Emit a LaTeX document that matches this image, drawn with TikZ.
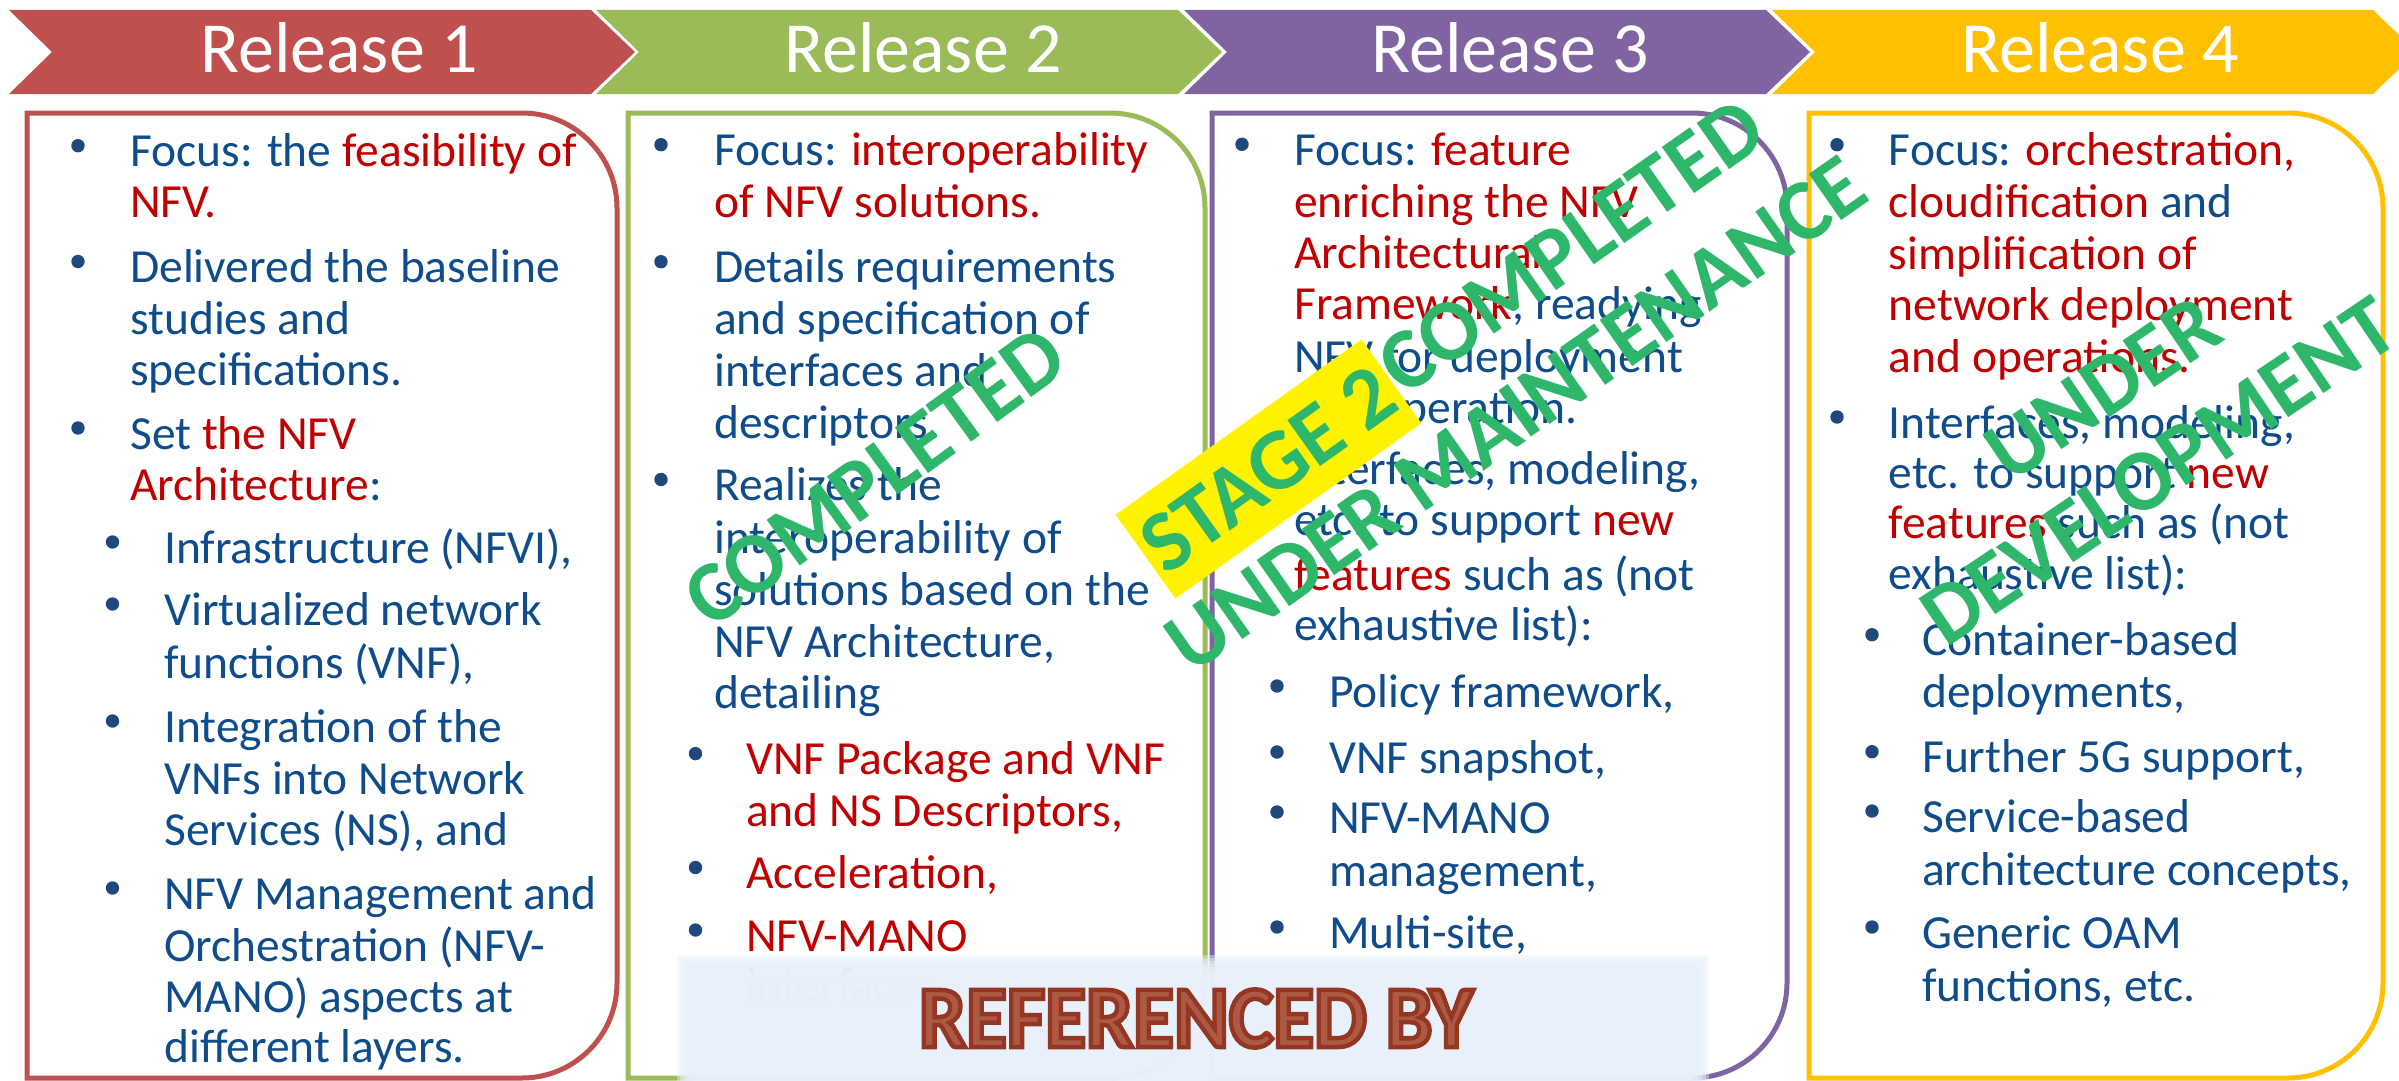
\documentclass[tikz,border=0pt]{standalone}
\usepackage{fontspec}
\setmainfont{Carlito}
\usepackage{graphicx}
\definecolor{cred}{HTML}{C0504D}
\definecolor{cgreen}{HTML}{9BBB59}
\definecolor{cpurple}{HTML}{8064A2}
\definecolor{cgold}{HTML}{FFC000}
\definecolor{tblue}{HTML}{0E4C8C}
\definecolor{tred}{HTML}{C00000}
\definecolor{bulc}{HTML}{1F497D}
\definecolor{wgreen}{HTML}{2EB66A}
\definecolor{ovl}{HTML}{E8F1FB}
\definecolor{reff}{HTML}{AD5A45}
\newcount\lnum
\newcommand\tline[3]{\global\advance\lnum by 1\relax\node[txt] (ln\the\lnum) at (#1,-#2) {#3};}
\newcommand\mybul[2]{\fill[bulc] (#1,{21-#2}) circle[radius=6.7];}
\newcommand\rd[1]{\textcolor{tred}{#1}}
\newcommand\relbox[3]{\draw[line width=5, #3] (#1,-113) -- ({#2-95},-113) arc[start angle=90,end angle=0,radius=95] -- (#2,{-1078+95}) arc[start angle=0,end angle=-90,radius=95] -- (#1,-1078) -- cycle;}
\newcommand\chev[3]{\fill[#3] (#1,-10) -- (#2,-10) -- ({#2+44},-52) -- (#2,-94) -- (#1,-94) -- ({#1+43},-52) -- cycle;}
\newcommand\refT{\special{pdf:literal direct 2 Tr 4.5 w 0.58 0.21 0.13 RG}\scalebox{0.95}[1]{REFERENCED BY}\special{pdf:literal direct 0 Tr 1 w}}
\begin{document}
\begin{tikzpicture}[x=1pt,y=1pt,
  txt/.style={anchor=base west, inner sep=0, font=\fontsize{47.5}{51}\selectfont, text=tblue},
  reltitle/.style={anchor=base, inner sep=0, text=white, font=\fontsize{72}{80}\selectfont},
  wm/.style={text=wgreen, inner sep=0, align=center, font=\fontsize{87}{100}\selectfont\bfseries},
  refsty/.style={anchor=base, inner sep=0, font=\fontsize{88}{90}\selectfont\bfseries}]
\useasboundingbox (0,0) rectangle (2399,-1081);
\fill[white] (0,0) rectangle (2399,-1081);
% chevrons
\chev{9}{591}{cred}
\chev{596}{1178}{cgreen}
\chev{1184}{1766}{cpurple}
\chev{1772}{2373}{cgold}
\node[reltitle] (r1) at (339,-72.7) {Release 1};
\node[reltitle] (r2) at (923,-72.7) {Release 2};
\node[reltitle] (r3) at (1510,-72.7) {Release 3};
\node[reltitle] (r4) at (2100,-72.7) {Release 4};
% boxes
\relbox{27}{617}{cred}
\relbox{628}{1205}{cgreen}
\relbox{1212}{1787}{cpurple}
\relbox{1809}{2383}{cgold}
% box 1
\mybul{78}{166.7}\tline{130}{166.7}{Focus: the \rd{feasibility of}}
\tline{130}{217.5}{\rd{NFV.}}
\mybul{78}{282.5}\tline{130}{282.5}{Delivered the baseline}
\tline{130}{334}{studies and}
\tline{130}{385}{specifications.}
\mybul{78}{449}\tline{130}{449}{Set \rd{the NFV}}
\tline{130}{500}{\rd{Architecture}:}
\mybul{112.5}{563}\tline{164}{563}{Infrastructure (NFVI),}
\mybul{112.5}{625}\tline{164}{625}{Virtualized network}
\tline{164}{678}{functions (VNF),}
\mybul{112.5}{742}\tline{164}{742}{Integration of the}
\tline{164}{794}{VNFs into Network}
\tline{164}{845}{Services (NS), and}
\mybul{112.5}{909}\tline{164}{909}{NFV Management and}
\tline{164}{961}{Orchestration (NFV-}
\tline{164}{1012}{MANO) aspects at}
\tline{164}{1062}{different layers.}
% box 2
\mybul{661}{165.7}\tline{714}{165.7}{Focus: \rd{interoperability}}
\tline{714}{217.6}{\rd{of NFV solutions.}}
\mybul{661}{282.7}\tline{714}{282.7}{Details requirements}
\tline{714}{334.7}{and specification of}
\tline{714}{386}{interfaces and}
\tline{714}{438}{descriptors.}
\mybul{661}{500.5}\tline{714}{500.5}{Realizes the}
\tline{714}{553.7}{interoperability of}
\tline{714}{605.6}{solutions based on the}
\tline{714}{657}{NFV Architecture,}
\tline{714}{708}{detailing}
\mybul{695.5}{774.6}\tline{746}{774.6}{\rd{VNF Package and VNF}}
\tline{746}{826}{\rd{and NS Descriptors,}}
\mybul{695.5}{888.5}\tline{746}{888.5}{\rd{Acceleration,}}
\mybul{695.5}{951}\tline{746}{951}{\rd{NFV-MANO}}
\tline{746}{1001}{\rd{interfaces}}
% box 3
\mybul{1242}{165.3}\tline{1294}{165.3}{Focus: \rd{feature}}
\tline{1294}{217}{\rd{enriching the NFV}}
\tline{1294}{268}{\rd{Architectural}}
\tline{1294}{319}{\rd{Framework}, readying}
\tline{1294}{372}{NFV for deployment}
\tline{1294}{423}{and operation.}
\mybul{1242}{484.5}\tline{1294}{484.5}{Interfaces, modeling,}
\tline{1294}{535.5}{etc. to support \rd{new}}
\tline{1294}{590}{\rd{features} such as (not}
\tline{1294}{640}{exhaustive list):}
\mybul{1277}{707}\tline{1329}{707}{Policy framework,}
\mybul{1277}{773}\tline{1329}{773}{VNF snapshot,}
\mybul{1277}{833}\tline{1329}{833}{NFV-MANO}
\tline{1329}{886}{management,}
\mybul{1277}{948}\tline{1329}{948}{Multi-site,}
% box 4
\mybul{1837}{165.7}\tline{1888.6}{165.7}{Focus: \rd{orchestration,}}
\tline{1888.6}{217.6}{\rd{cloudification} and}
\tline{1888.6}{269}{\rd{simplification of}}
\tline{1888.6}{320}{\rd{network deployment}}
\tline{1888.6}{372}{\rd{and operations.}}
\mybul{1837}{438}\tline{1888.6}{438}{Interfaces, modeling,}
\tline{1888.6}{488}{etc. to support \rd{new}}
\tline{1888.6}{538}{\rd{features} such as (not}
\tline{1888.6}{589}{exhaustive list):}
\mybul{1872}{655.7}\tline{1922}{655.7}{Container-based}
\tline{1922}{707}{deployments,}
\mybul{1872}{772.7}\tline{1922}{772.7}{Further 5G support,}
\mybul{1872}{832}\tline{1922}{832}{Service-based}
\tline{1922}{885}{architecture concepts,}
\mybul{1872}{948}\tline{1922}{948}{Generic OAM}
\tline{1922}{1001}{functions, etc.}
% watermarks
\node[wm, rotate=36] (wm1) at (875,-477) {COMPLETED};
\node[wm, fill=yellow, minimum width=302, minimum height=103, rotate=35.5] (stage) at (1268.5,-469) {STAGE 2};
\node[wm, rotate=35] (wm3) at (1571,-246) {COMPLETED};
\node[wm, rotate=35] (wm4) at (1516,-414) {UNDER MAINTENANCE};
\node[wm, rotate=34] (wm5) at (2131,-430) {UNDER\\DEVELOPMENT};
% overlay
\foreach \i in {0,...,9}{\fill[ovl, fill opacity=0.45] ({677+3*\i},{-955-3*\i}) rectangle ({1709-3*\i},-1090);}
\node[refsty, text=reff] (refby) at (1196,-1047) {\refT};
\end{tikzpicture}
\end{document}
